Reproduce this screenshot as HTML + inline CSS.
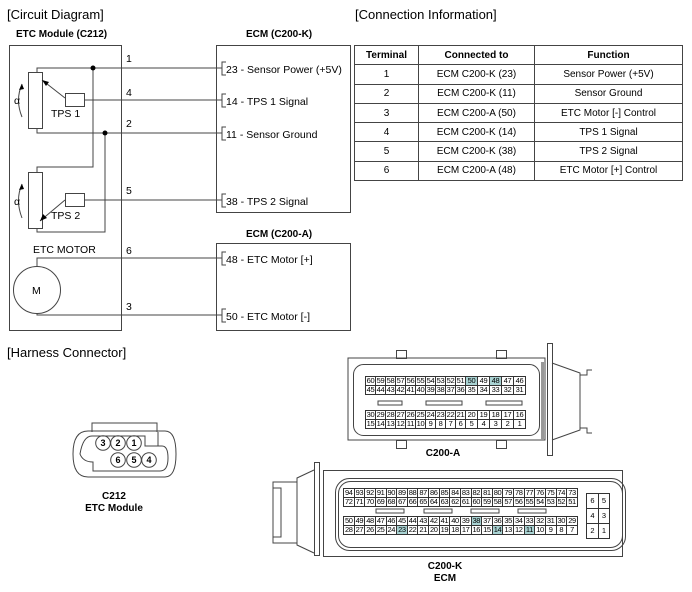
<!DOCTYPE html>
<html><head><meta charset="utf-8"><style>
html,body{margin:0;padding:0;background:#fff;}
#w{position:relative;width:692px;height:592px;overflow:hidden;font-family:"Liberation Sans",Arial,sans-serif;}
svg{position:absolute;left:0;top:0;}
table.g{position:absolute;border-collapse:collapse;table-layout:fixed;font-size:7.5px;line-height:8px;}
table.g td{border:1px solid #333;text-align:center;padding:0;height:8px;overflow:hidden;white-space:nowrap;letter-spacing:-0.3px;}
td.h{background:#a9d3d3;}
table.t{position:absolute;left:354px;top:45px;width:329px;border-collapse:collapse;table-layout:fixed;font-size:10px;}
table.t td,table.t th{border:1px solid #444;text-align:center;height:18.3px;padding:0;}
table.t th{font-weight:bold;}
</style></head><body><div id="w">
<svg width="692" height="592" viewBox="0 0 692 592" font-family="Liberation Sans, Arial, sans-serif">
<g fill="#000">
<text x="7" y="19" font-size="13">[Circuit Diagram]</text>
<text x="355" y="19" font-size="13">[Connection Information]</text>
<text x="7" y="357" font-size="13">[Harness Connector]</text>
<text x="16" y="37" font-size="10" font-weight="bold">ETC Module (C212)</text>
<text x="246" y="37" font-size="10" font-weight="bold">ECM (C200-K)</text>
<text x="246" y="237" font-size="10" font-weight="bold">ECM (C200-A)</text>
</g>
<g fill="none" stroke="#444" stroke-width="1">
<rect x="9.5" y="45.5" width="112" height="285"/>
<rect x="216.5" y="45.5" width="134" height="167"/>
<rect x="216.5" y="243.5" width="134" height="87"/>
<rect x="28.5" y="72.5" width="14" height="56"/>
<rect x="28.5" y="172.5" width="14" height="56"/>
<rect x="65.5" y="93.5" width="19" height="13"/>
<rect x="65.5" y="193.5" width="19" height="13"/>
<polyline points="37,72 37,68 222,68"/>
<polyline points="84,100 222,100"/>
<polyline points="37,128 37,133 222,133"/>
<polyline points="93,68 93,167 37,167 37,172"/>
<polyline points="105,133 105,232 37,232 37,228"/>
<polyline points="84,200 222,200"/>
<polyline points="37,285 37,258 222,258"/>
<polyline points="37,305 37,315 222,315"/>
<circle cx="37" cy="290" r="23.5" fill="#fff"/>
<line x1="65" y1="98" x2="42" y2="80"/>
<line x1="65" y1="200" x2="40" y2="221"/>
<path d="M22,117 Q15,100 22,84"/>
<path d="M22,218 Q15,200 22,184"/>
<polyline points="226,62 222,62 222,75 226,75"/>
<polyline points="226,94 222,94 222,107 226,107"/>
<polyline points="226,127 222,127 222,140 226,140"/>
<polyline points="226,194 222,194 222,207 226,207"/>
<polyline points="226,252 222,252 222,265 226,265"/>
<polyline points="226,309 222,309 222,322 226,322"/>
</g>
<g fill="#000">
<circle cx="93" cy="68" r="2.5"/><circle cx="105" cy="133" r="2.5"/>
<polygon points="42,80 49,82 46,86"/>
<polygon points="40,221 43,214 47,218"/>
<polygon points="22,84 19,90 24,89"/>
<polygon points="22,184 19,190 24,189"/>
</g>
<g font-size="10.5" fill="#000">
<text x="126" y="62">1</text><text x="126" y="96">4</text><text x="126" y="127">2</text>
<text x="126" y="194">5</text><text x="126" y="254">6</text><text x="126" y="310">3</text>
<text x="51" y="117">TPS 1</text><text x="51" y="219">TPS 2</text>
<text x="14" y="104">α</text><text x="14" y="205">α</text>
<text x="33" y="253">ETC MOTOR</text>
<text x="32" y="294">M</text>
<text x="226" y="73">23 - Sensor Power (+5V)</text>
<text x="226" y="105">14 - TPS 1 Signal</text>
<text x="226" y="138">11 - Sensor Ground</text>
<text x="226" y="205">38 - TPS 2 Signal</text>
<text x="226" y="263">48 - ETC Motor [+]</text>
<text x="226" y="320">50 - ETC Motor [-]</text>
</g>
<!-- C212 -->
<g fill="none" stroke="#444">
<path d="M92,432 V423 H157 V432"/>
<path d="M88,431 H165 Q176,431 176,454 Q176,477 165,477 H88 Q73,477 73,454 Q73,431 88,431 Z"/>
<path d="M92,436 H145 V446 H158 V432 M158,446 H162 Q168,446 168,458 Q168,471 160,471 H93 V462 Q83,462 80,454 Q83,436 92,436"/>
<circle cx="103" cy="443" r="7.3"/><circle cx="118" cy="443" r="7.3"/><circle cx="134" cy="443" r="7.3"/>
<circle cx="118" cy="460" r="7.3"/><circle cx="134" cy="460" r="7.3"/><circle cx="149" cy="460" r="7.3"/>
</g>
<g font-size="9" font-weight="bold" text-anchor="middle">
<text x="103" y="446">3</text><text x="118" y="446">2</text><text x="134" y="446">1</text>
<text x="118" y="463">6</text><text x="134" y="463">5</text><text x="149" y="463">4</text>
</g>
<g font-size="10" font-weight="bold" text-anchor="middle">
<text x="114" y="499">C212</text><text x="114" y="511">ETC Module</text>
<text x="443" y="456">C200-A</text>
<text x="445" y="569">C200-K</text><text x="445" y="581">ECM</text>
</g>
<g fill="none" stroke="#444">
<path d="M348,440 V358 H545 V440 Z"/>
<rect x="396.5" y="350.5" width="10" height="8"/><rect x="496.5" y="350.5" width="10" height="8"/>
<rect x="396.5" y="440.5" width="10" height="8"/><rect x="496.5" y="440.5" width="10" height="8"/>
<rect x="353.5" y="364.5" width="186" height="71" rx="10"/>
<rect x="541" y="362" width="3" height="78" fill="#999" stroke="none"/>
<rect x="547.5" y="343.5" width="5" height="112"/>
<polyline points="552,363 580,373 580,430 552,440"/>
<polyline points="580,375 587,375 587,370 592,370"/>
<polyline points="580,428 587,428 587,433 592,433"/>
<rect x="378" y="401" width="24" height="4"/><rect x="426" y="401" width="36" height="4"/><rect x="486" y="401" width="36" height="4"/>
<rect x="323.5" y="470.5" width="299" height="86"/>
<rect x="335.5" y="478.5" width="290" height="72" rx="14"/>
<rect x="338.5" y="481.5" width="284" height="66" rx="12"/>
<rect x="314.5" y="462.5" width="5" height="93"/>
<polyline points="314,470 297,478 297,545 314,553"/>
<polyline points="297,482 273,482 273,543 297,543"/>
<polyline points="273,488 281,488 281,537 273,537"/>
<rect x="376" y="509" width="28" height="4"/><rect x="424" y="509" width="28" height="4"/><rect x="471" y="509" width="28" height="4"/><rect x="518" y="509" width="28" height="4"/>
</g>
</svg>

<table class="t">
<tr><th style="width:63px">Terminal</th><th style="width:115px">Connected to</th><th>Function</th></tr>
<tr><td>1</td><td>ECM C200-K (23)</td><td>Sensor Power (+5V)</td></tr>
<tr><td>2</td><td>ECM C200-K (11)</td><td>Sensor Ground</td></tr>
<tr><td>3</td><td>ECM C200-A (50)</td><td>ETC Motor [-] Control</td></tr>
<tr><td>4</td><td>ECM C200-K (14)</td><td>TPS 1 Signal</td></tr>
<tr><td>5</td><td>ECM C200-K (38)</td><td>TPS 2 Signal</td></tr>
<tr><td>6</td><td>ECM C200-A (48)</td><td>ETC Motor [+] Control</td></tr>
</table>

<table class="g" style="left:365px;top:376px;width:160px;">
<colgroup><col span="10" style="width:10px"><col span="5" style="width:12px"></colgroup>
<tr><td>60</td><td>59</td><td>58</td><td>57</td><td>56</td><td>55</td><td>54</td><td>53</td><td>52</td><td>51</td><td class="h">50</td><td>49</td><td class="h">48</td><td>47</td><td>46</td></tr>
<tr><td>45</td><td>44</td><td>43</td><td>42</td><td>41</td><td>40</td><td>39</td><td>38</td><td>37</td><td>36</td><td>35</td><td>34</td><td>33</td><td>32</td><td>31</td></tr>
</table>
<table class="g" style="left:365px;top:410px;width:160px;">
<colgroup><col span="10" style="width:10px"><col span="5" style="width:12px"></colgroup>
<tr><td>30</td><td>29</td><td>28</td><td>27</td><td>26</td><td>25</td><td>24</td><td>23</td><td>22</td><td>21</td><td>20</td><td>19</td><td>18</td><td>17</td><td>16</td></tr>
<tr><td>15</td><td>14</td><td>13</td><td>12</td><td>11</td><td>10</td><td>9</td><td>8</td><td>7</td><td>6</td><td>5</td><td>4</td><td>3</td><td>2</td><td>1</td></tr>
</table>

<table class="g" style="left:343px;top:488px;width:235px;">
<tr><td>94</td><td>93</td><td>92</td><td>91</td><td>90</td><td>89</td><td>88</td><td>87</td><td>86</td><td>85</td><td>84</td><td>83</td><td>82</td><td>81</td><td>80</td><td>79</td><td>78</td><td>77</td><td>76</td><td>75</td><td>74</td><td>73</td></tr>
<tr><td>72</td><td>71</td><td>70</td><td>69</td><td>68</td><td>67</td><td>66</td><td>65</td><td>64</td><td>63</td><td>62</td><td>61</td><td>60</td><td>59</td><td>58</td><td>57</td><td>56</td><td>55</td><td>54</td><td>53</td><td>52</td><td>51</td></tr>
</table>
<table class="g" style="left:343px;top:516px;width:235px;">
<tr><td>50</td><td>49</td><td>48</td><td>47</td><td>46</td><td>45</td><td>44</td><td>43</td><td>42</td><td>41</td><td>40</td><td>39</td><td class="h">38</td><td>37</td><td>36</td><td>35</td><td>34</td><td>33</td><td>32</td><td>31</td><td>30</td><td>29</td></tr>
<tr><td>28</td><td>27</td><td>26</td><td>25</td><td>24</td><td class="h">23</td><td>22</td><td>21</td><td>20</td><td>19</td><td>18</td><td>17</td><td>16</td><td>15</td><td class="h">14</td><td>13</td><td>12</td><td class="h">11</td><td>10</td><td>9</td><td>8</td><td>7</td></tr>
</table>
<table class="g" style="left:586px;top:493px;width:24px;">
<tr><td style="height:14px">6</td><td>5</td></tr>
<tr><td style="height:14px">4</td><td>3</td></tr>
<tr><td style="height:14px">2</td><td>1</td></tr>
</table>
</div></body></html>
